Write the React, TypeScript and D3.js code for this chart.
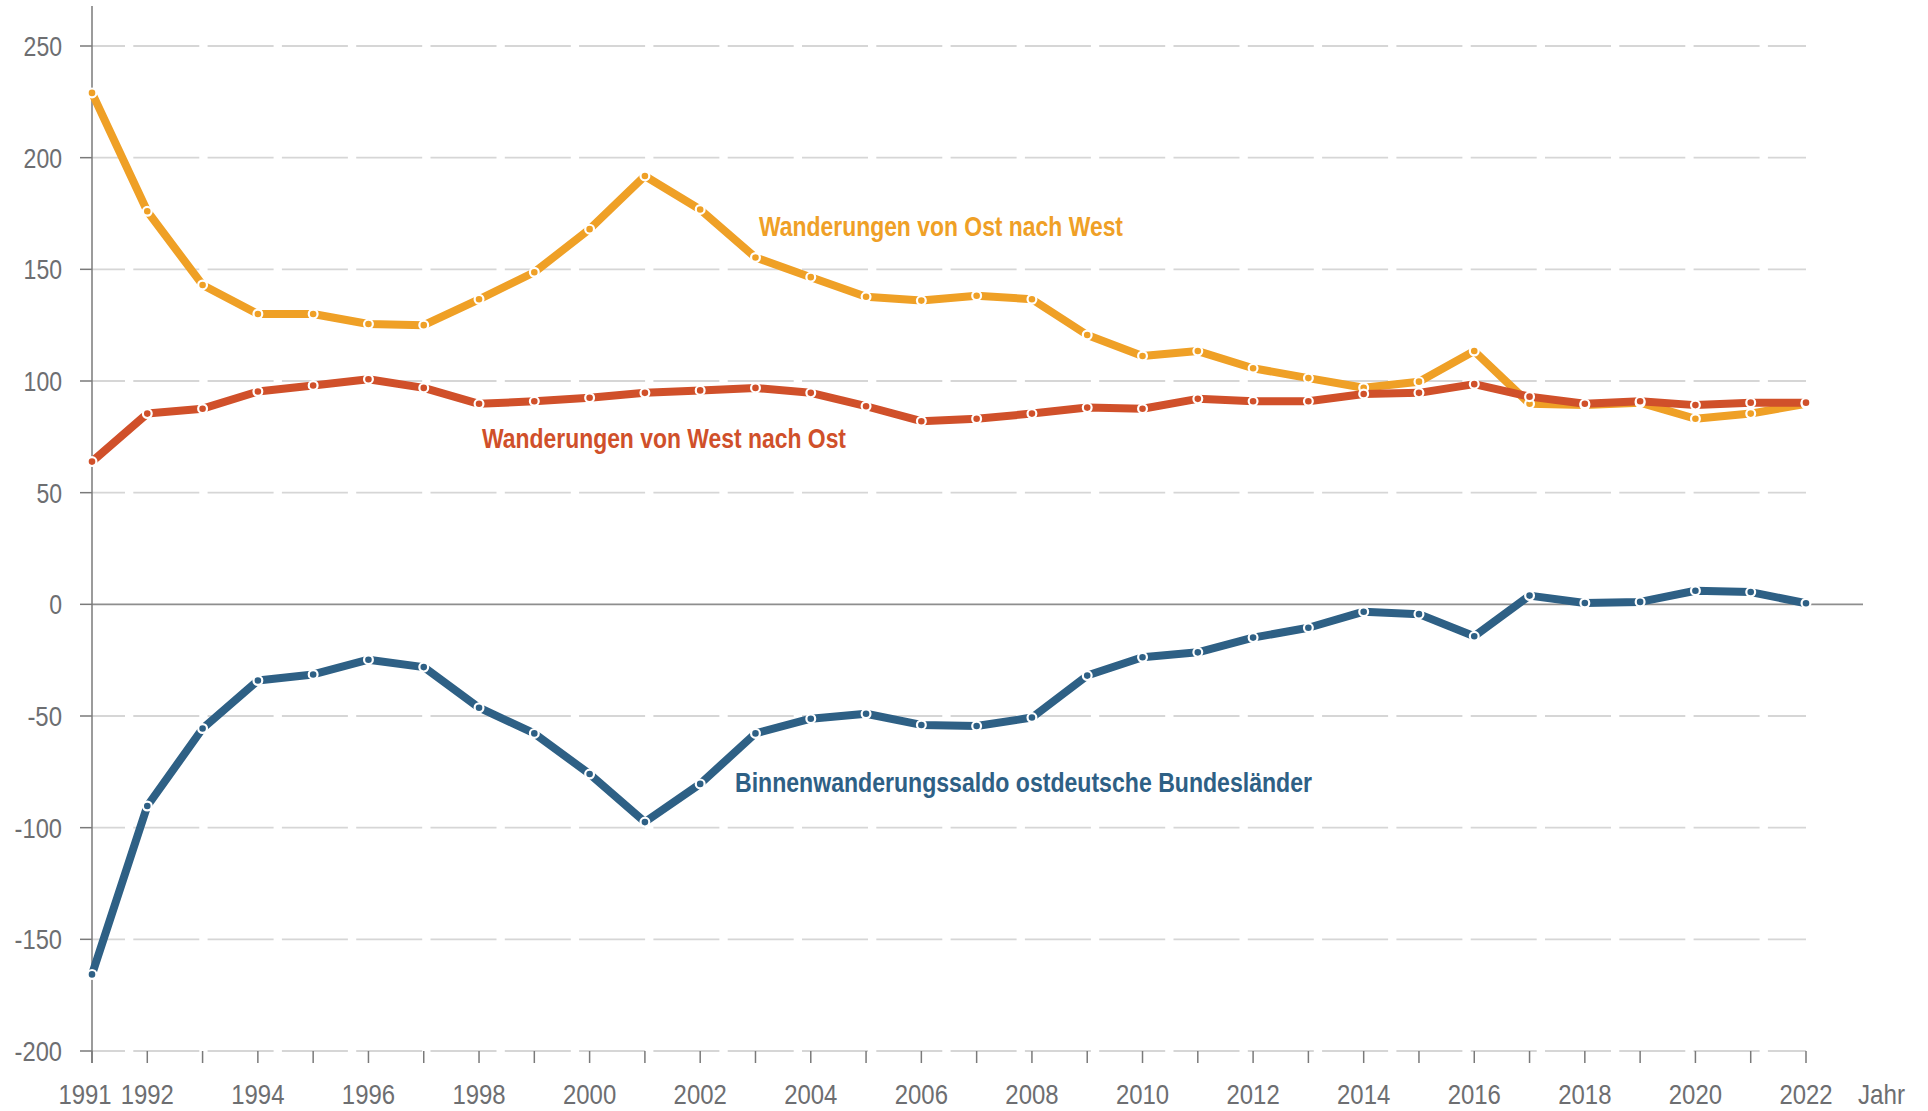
import React, { useRef, useEffect } from 'react';
import * as d3 from 'd3';

const years = d3.range(1991, 2023);

// Wanderungen von Ost nach West (Tsd.)
const ostNachWest = [229, 176, 143, 130, 130, 125.5, 125, 136.6, 148.7, 168, 191.8, 176.8, 155.3, 146.5, 137.7, 136,
  138.2, 136.6, 120.6, 111.2, 113.4, 105.7, 101.3, 97, 99.7, 113.4, 89.8, 89.2, 90.3, 83.1, 85.4, 89.8];

// Wanderungen von West nach Ost (Tsd.)
const westNachOst = [63.9, 85.4, 87.6, 95.3, 98, 100.8, 96.9, 89.8, 90.9, 92.5, 94.7, 95.8, 96.9, 94.7, 88.7, 82,
  83.1, 85.4, 88.1, 87.6, 92, 90.9, 90.9, 94.2, 94.7, 98.6, 93, 89.8, 90.9, 89.2, 90.3, 90.3];

// Binnenwanderungssaldo ostdeutsche Bundesländer (Tsd.)
const saldo = [-165.7, -90.3, -55.6, -34.1, -31.4, -24.8, -28.1, -46.3, -57.8, -76, -97.5, -80.4, -57.8, -51.2, -49, -54,
  -54.5, -50.7, -31.9, -23.7, -21.5, -14.9, -10.5, -3.3, -4.4, -14.3, 3.9, 0.6, 1.1, 6.1, 5.5, 0.5];

const yTicks = [250, 200, 150, 100, 50, 0, -50, -100, -150, -200];
const xLabelYears = [1991, 1992, 1994, 1996, 1998, 2000, 2002, 2004, 2006, 2008, 2010, 2012, 2014, 2016, 2018, 2020, 2022];

const series = [
  { name: 'Wanderungen von Ost nach West', values: ostNachWest, color: '#EFA026', lx: 759, ly: 236, w: 364 },
  { name: 'Wanderungen von West nach Ost', values: westNachOst, color: '#D0502A', lx: 482, ly: 448, w: 364 },
  { name: 'Binnenwanderungssaldo ostdeutsche Bundesländer', values: saldo, color: '#2E6085', lx: 735, ly: 792, w: 577 },
];

// no condensed font available: squeeze Liberation Sans with textLength
const FONT = '"Liberation Sans", Arial, sans-serif';
const numWidth = (s: string, digit: number) =>
  s.split('').reduce((acc, c) => acc + (c === '-' ? 9 : digit), 0);

const App = () => {
  const svgRef = useRef<SVGSVGElement>(null);

  useEffect(() => {
    if (!svgRef.current) return;
    const svg = d3.select(svgRef.current);
    svg.selectAll('*').remove();

    const x = d3.scaleLinear().domain([1991, 2022]).range([92, 1806]);
    const y = d3.scaleLinear().domain([-200, 250]).range([1051, 46]);

    // gridlines
    svg.append('g')
      .selectAll('line')
      .data(yTicks.filter(t => t !== 0))
      .enter()
      .append('line')
      .attr('x1', 92)
      .attr('x2', x(2022))
      .attr('y1', d => y(d))
      .attr('y2', d => y(d))
      .attr('stroke', '#d6d6d6')
      .attr('stroke-width', 1.8)
      .attr('stroke-dasharray', '66 8.3')
      .attr('stroke-dashoffset', 33);

    // zero line
    svg.append('line')
      .attr('x1', 92)
      .attr('x2', 1863)
      .attr('y1', y(0))
      .attr('y2', y(0))
      .attr('stroke', '#8e8e8e')
      .attr('stroke-width', 1.8);

    // y axis
    svg.append('line')
      .attr('x1', 92).attr('x2', 92)
      .attr('y1', 6).attr('y2', 1063)
      .attr('stroke', '#7a7a7a')
      .attr('stroke-width', 1.5);

    const yAxis = svg.append('g');
    yAxis.selectAll('line')
      .data(yTicks)
      .enter()
      .append('line')
      .attr('x1', 80).attr('x2', 92)
      .attr('y1', d => y(d)).attr('y2', d => y(d))
      .attr('stroke', '#7a7a7a')
      .attr('stroke-width', 1.5);
    yAxis.selectAll('text')
      .data(yTicks)
      .enter()
      .append('text')
      .attr('x', 62)
      .attr('y', d => y(d))
      .attr('dy', '0.36em')
      .attr('text-anchor', 'end')
      .attr('textLength', d => numWidth(String(d), 12.8))
      .attr('lengthAdjust', 'spacingAndGlyphs')
      .style('font-family', FONT)
      .style('font-size', '28px')
      .style('fill', '#6d6e71')
      .text(d => d);

    // x axis ticks
    const xAxis = svg.append('g');
    xAxis.selectAll('line')
      .data(years)
      .enter()
      .append('line')
      .attr('x1', d => x(d)).attr('x2', d => x(d))
      .attr('y1', 1051).attr('y2', 1063)
      .attr('stroke', '#7a7a7a')
      .attr('stroke-width', 1.5);
    xAxis.selectAll('text')
      .data(xLabelYears)
      .enter()
      .append('text')
      .attr('x', d => x(d) + (d === 1991 ? -7 : 0))
      .attr('y', 1104)
      .attr('text-anchor', 'middle')
      .attr('textLength', d => numWidth(String(d), 13.3))
      .attr('lengthAdjust', 'spacingAndGlyphs')
      .style('font-family', FONT)
      .style('font-size', '28px')
      .style('fill', '#6d6e71')
      .text(d => d);
    svg.append('text')
      .attr('x', 1858)
      .attr('y', 1104)
      .attr('textLength', 47)
      .attr('lengthAdjust', 'spacingAndGlyphs')
      .style('font-family', FONT)
      .style('font-size', '28px')
      .style('fill', '#6d6e71')
      .text('Jahr');

    // lines
    const line = d3.line<number>()
      .x((_, i) => x(years[i]))
      .y(d => y(d));

    series.forEach(s => {
      svg.append('path')
        .datum(s.values)
        .attr('d', line)
        .attr('fill', 'none')
        .attr('stroke', s.color)
        .attr('stroke-width', 8)
        .attr('stroke-linejoin', 'round');
    });

    series.forEach(s => {
      svg.append('g')
        .selectAll('circle')
        .data(s.values)
        .enter()
        .append('circle')
        .attr('cx', (_, i) => x(years[i]))
        .attr('cy', d => y(d))
        .attr('r', 4.4)
        .attr('fill', s.color)
        .attr('stroke', 'white')
        .attr('stroke-width', 2.2);
    });

    // series labels
    series.forEach(s => {
      svg.append('text')
        .attr('x', s.lx)
        .attr('y', s.ly)
        .attr('textLength', s.w)
        .attr('lengthAdjust', 'spacingAndGlyphs')
        .style('font-family', FONT)
        .style('font-size', '28px')
        .style('font-weight', 'bold')
        .style('fill', s.color)
        .text(s.name);
    });
  }, []);

  return (
    <svg
      ref={svgRef}
      width={1928}
      height={1111}
      style={{ position: 'absolute', left: 0, top: 0, background: '#fff' }}
    />
  );
};

export default App;
